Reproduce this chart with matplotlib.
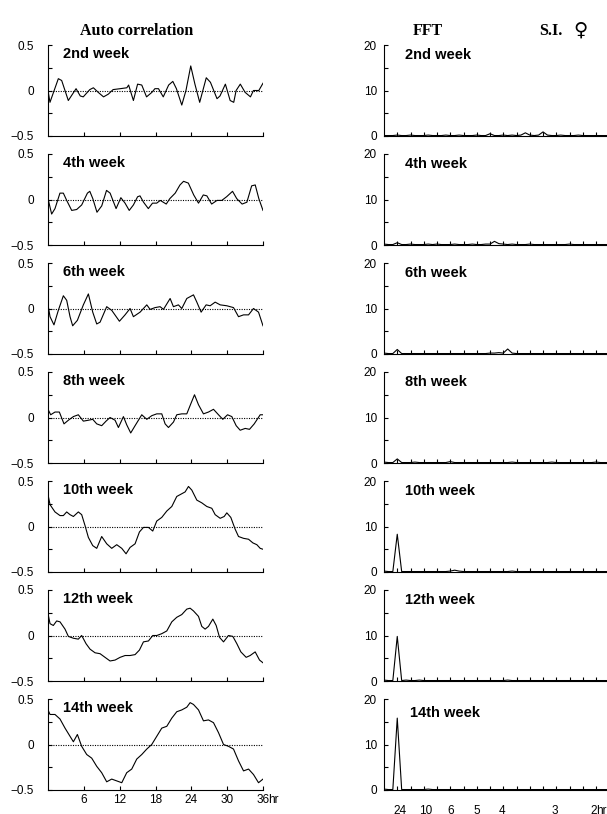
import numpy as np
import matplotlib.pyplot as plt
from matplotlib.ticker import FixedLocator

# week labels
weeks = ["2nd week", "4th week", "6th week", "8th week", "10th week", "12th week", "14th week"]

# auto correlation curves, lag in hr and coefficient
ac_t_w2 = [0, 0.33, 1.73, 2.29, 3.4, 4.7, 5.4, 5.9, 7.0, 7.6, 8.4, 9.3, 10.1, 10.9, 12.1, 13.2, 13.5, 14.3,
           15.0, 15.7, 16.5, 17.4, 17.9, 18.5, 19.3, 20.2, 20.9, 21.5, 22.4, 23.1, 23.9, 24.6, 25.4, 26.5,
           27.2, 28.3, 28.8, 29.7, 30.5, 31.1, 31.5, 32.2, 33.0, 33.9, 34.4, 35.3, 36.0]
ac_v_w2 = [0, -0.13, 0.13, 0.11, -0.11, 0.02, -0.06, -0.07, 0.01, 0.03, -0.02, -0.07, -0.04, 0.01, 0.02, 0.03,
           0.06, -0.11, 0.07, 0.06, -0.07, -0.02, 0.02, 0.02, -0.07, 0.06, 0.10, 0.02, -0.16, 0, 0.27, 0.07,
           -0.13, 0.14, 0.09, -0.09, -0.06, 0.07, -0.11, -0.13, 0, 0.07, -0.02, -0.07, 0, 0, 0.08]

ac_t_w4 = [0, 0.61, 1.17, 2.0, 2.57, 3.13, 3.97, 4.8, 5.64, 6.6, 7.0, 7.5, 8.2, 9.0, 9.8, 10.4, 11.4, 12.2,
           12.9, 13.6, 14.3, 15.0, 15.4, 16.0, 16.8, 17.5, 18.2, 18.8, 19.8, 20.4, 21.3, 22.1, 22.7, 23.5,
           24.4, 25.2, 26.0, 26.6, 27.4, 28.3, 29.1, 29.9, 30.9, 31.6, 32.5, 33.3, 34.1, 34.7, 35.3, 36.0]
ac_v_w4 = [0.01, -0.16, -0.10, 0.07, 0.07, -0.01, -0.12, -0.11, -0.06, 0.07, 0.09, 0.01, -0.14, -0.07, 0.10,
           0.07, -0.10, 0.02, -0.04, -0.12, -0.06, 0.03, 0.04, -0.03, -0.10, -0.04, -0.04, -0.01, -0.05, 0.01,
           0.07, 0.16, 0.20, 0.18, 0.05, -0.04, 0.05, 0.04, -0.05, -0.01, -0.01, 0.03, 0.09, 0.01, -0.05,
           -0.03, 0.15, 0.16, 0.01, -0.12]

ac_t_w6 = [0, 0.34, 1.0, 1.73, 2.57, 3.13, 3.69, 4.13, 4.92, 5.92, 6.76, 7.49, 8.16, 8.72, 9.83, 10.67, 11.96,
           12.9, 13.74, 14.3, 15.42, 16.54, 17.1, 17.93, 18.77, 19.33, 20.45, 21.0, 21.84, 22.4, 23.24, 24.36,
           24.92, 25.64, 26.48, 27.15, 27.99, 28.83, 29.94, 31.06, 31.9, 32.74, 33.58, 34.41, 35.25, 36.0]
ac_v_w6 = [0.04, -0.09, -0.18, -0.02, 0.14, 0.09, -0.09, -0.19, -0.13, 0.04, 0.16, -0.04, -0.17, -0.15, 0.02,
           -0.02, -0.14, -0.07, 0, -0.09, -0.04, 0.04, -0.01, 0.01, 0.02, -0.01, 0.11, 0.02, 0.04, 0, 0.11,
           0.15, 0.07, -0.04, 0.04, 0.03, 0.07, 0.04, 0.03, 0.01, -0.09, -0.07, -0.07, 0, -0.04, -0.19]

ac_t_w8 = [0, 0.45, 1.17, 1.9, 2.68, 3.41, 4.25, 5.08, 5.92, 6.76, 7.49, 8.16, 8.99, 9.72, 10.39, 11.23, 11.79,
           12.63, 13.18, 13.85, 14.58, 15.7, 16.54, 17.37, 18.21, 19.05, 19.61, 20.17, 21.01, 21.56, 22.4,
           23.24, 23.91, 24.53, 25.2, 26.03, 26.87, 27.71, 28.55, 29.27, 30.06, 30.78, 31.51, 32.18, 33.02,
           33.74, 34.53, 35.53, 36.0]
ac_v_w8 = [0.09, 0.03, 0.06, 0.06, -0.07, -0.03, 0.01, 0.03, -0.04, -0.03, -0.02, -0.07, -0.09, -0.04, 0,
           -0.03, -0.11, 0.01, -0.08, -0.17, -0.09, 0.03, -0.02, 0.02, 0.04, 0.04, -0.07, -0.11, -0.05, 0.03,
           0.04, 0.04, 0.15, 0.25, 0.14, 0.04, 0.06, 0.09, 0.03, -0.02, 0.03, 0.01, -0.09, -0.14, -0.12,
           -0.13, -0.07, 0.03, 0.03]

ac_t_w10 = [0, 0.34, 1.17, 2.01, 2.57, 3.13, 3.69, 4.25, 5.08, 5.64, 6.2, 6.76, 7.49, 8.16, 8.99, 9.83, 10.67,
            11.51, 12.35, 13.07, 13.74, 14.58, 15.31, 15.98, 16.82, 17.54, 18.21, 19.05, 19.89, 20.73, 21.56,
            22.4, 22.96, 23.52, 24.08, 24.92, 25.75, 26.59, 27.43, 27.99, 28.83, 29.5, 29.94, 30.61, 31.34,
            31.9, 32.74, 33.58, 34.3, 34.97, 35.53, 36.0]
ac_v_w10 = [0.35, 0.24, 0.16, 0.12, 0.12, 0.16, 0.13, 0.11, 0.16, 0.13, 0.01, -0.12, -0.21, -0.24, -0.11,
            -0.19, -0.24, -0.20, -0.24, -0.30, -0.23, -0.19, -0.06, -0.01, -0.01, -0.05, 0.06, 0.10, 0.17,
            0.22, 0.33, 0.36, 0.38, 0.44, 0.40, 0.29, 0.26, 0.22, 0.20, 0.13, 0.09, 0.11, 0.15, 0.10, -0.03,
            -0.11, -0.13, -0.14, -0.18, -0.20, -0.24, -0.25]

ac_t_w12 = [0, 0.34, 0.89, 1.45, 2.01, 2.85, 3.41, 4.25, 5.08, 5.64, 6.37, 7.04, 7.88, 8.72, 9.55, 10.39,
            11.23, 12.07, 12.91, 13.74, 14.58, 15.31, 15.98, 16.82, 17.54, 18.21, 19.05, 19.89, 20.73, 21.56,
            22.4, 23.24, 23.8, 24.36, 25.2, 25.75, 26.31, 26.87, 27.6, 28.16, 28.72, 29.39, 30.22, 30.95,
            31.62, 32.29, 33.18, 33.85, 34.69, 35.42, 36.0]
ac_v_w12 = [0.24, 0.13, 0.11, 0.16, 0.15, 0.07, -0.01, -0.03, -0.04, 0, -0.09, -0.15, -0.19, -0.20, -0.24,
            -0.28, -0.27, -0.24, -0.22, -0.22, -0.21, -0.16, -0.07, -0.06, 0, 0, 0.02, 0.05, 0.15, 0.20, 0.23,
            0.29, 0.30, 0.27, 0.21, 0.10, 0.07, 0.10, 0.18, 0.11, -0.02, -0.07, 0, -0.01, -0.09, -0.18, -0.24,
            -0.22, -0.18, -0.27, -0.30]

ac_t_w14 = [0, 0.34, 1.17, 2.01, 2.85, 3.69, 4.25, 4.92, 5.64, 6.48, 7.32, 8.16, 8.99, 9.83, 10.67, 11.51,
            12.35, 13.18, 14.02, 14.86, 15.7, 16.54, 17.37, 18.21, 19.05, 19.89, 20.73, 21.56, 22.4, 23.24,
            23.8, 24.36, 25.2, 26.03, 26.87, 27.71, 28.55, 29.39, 30.22, 31.06, 31.9, 32.74, 33.58, 34.41,
            35.25, 36.0]
ac_v_w14 = [0.38, 0.33, 0.33, 0.28, 0.18, 0.09, 0.03, 0.11, -0.02, -0.11, -0.15, -0.24, -0.31, -0.41, -0.38,
            -0.40, -0.42, -0.31, -0.27, -0.16, -0.11, -0.05, 0, 0.09, 0.18, 0.20, 0.29, 0.36, 0.38, 0.41, 0.46,
            0.44, 0.38, 0.26, 0.27, 0.24, 0.13, 0, -0.02, -0.05, -0.18, -0.29, -0.27, -0.33, -0.42, -0.38]

ac_t = [ac_t_w2, ac_t_w4, ac_t_w6, ac_t_w8, ac_t_w10, ac_t_w12, ac_t_w14]
ac_v = [ac_v_w2, ac_v_w4, ac_v_w6, ac_v_w8, ac_v_w10, ac_v_w12, ac_v_w14]

# FFT power, frequency bins (cycles/day, step 0.25)
fft_f = np.arange(0, 13.01, 0.25)
fft_w2 = [0.1, 0.1, 0.1, 0.2, 0.1, 0.1, 0.2, 0.1, 0.1, 0.1, 0.2, 0.1, 0.1, 0.1, 0.2, 0.1, 0.1, 0.2, 0.1,
          0.1, 0.1, 0.2, 0.1, 0.1, 0.5, 0.1, 0.1, 0.2, 0.1, 0.2, 0.1, 0.2, 0.7, 0.2, 0.1, 0.2, 0.9, 0.2, 0.1,
          0.1, 0.2, 0.1, 0.1, 0.1, 0.2, 0.1, 0.1, 0.1, 0.1, 0.1, 0.1, 0.1, 0.1]
fft_w4 = [0.2, 0.1, 0.1, 0.5, 0.1, 0.1, 0.2, 0.1, 0.1, 0.1, 0.2, 0.1, 0.2, 0.1, 0.1, 0.1, 0.2, 0.1, 0.1,
          0.1, 0.2, 0.1, 0.1, 0.2, 0.2, 0.8, 0.3, 0.2, 0.1, 0.2, 0.1, 0.1, 0.1, 0.2, 0.1, 0.1, 0.1, 0.1, 0.1,
          0.1, 0.1, 0.1, 0.2, 0.1, 0.1, 0.1, 0.1, 0.1, 0.1, 0.1, 0.1, 0.1, 0.1]
fft_w6 = [0.2, 0.1, 0.1, 1.0, 0.1, 0.1, 0.1, 0.1, 0.1, 0.1, 0.1, 0.1, 0.1, 0.1, 0.1, 0.1, 0.1, 0.1, 0.1,
          0.1, 0.1, 0.1, 0.1, 0.1, 0.2, 0.2, 0.3, 0.2, 1.1, 0.2, 0.1, 0.1, 0.1, 0.1, 0.1, 0.1, 0.1, 0.1, 0.1,
          0.1, 0.1, 0.1, 0.1, 0.1, 0.1, 0.1, 0.1, 0.1, 0.1, 0.1, 0.1, 0.1, 0.1]
fft_w8 = [0.2, 0.1, 0.1, 0.9, 0.1, 0.1, 0.1, 0.2, 0.1, 0.1, 0.1, 0.1, 0.1, 0.1, 0.1, 0.3, 0.1, 0.1, 0.1,
          0.1, 0.1, 0.1, 0.1, 0.1, 0.1, 0.1, 0.1, 0.1, 0.1, 0.2, 0.1, 0.1, 0.1, 0.1, 0.1, 0.1, 0.1, 0.1, 0.2,
          0.1, 0.1, 0.1, 0.1, 0.1, 0.1, 0.1, 0.1, 0.1, 0.2, 0.1, 0.1, 0.1, 0.1]
fft_w10 = [0.2, 0.1, 0.1, 8.3, 0.1, 0.1, 0.1, 0.1, 0.1, 0.1, 0.1, 0.1, 0.1, 0.1, 0.1, 0.2, 0.4, 0.2, 0.1,
           0.1, 0.1, 0.1, 0.1, 0.1, 0.1, 0.1, 0.1, 0.1, 0.1, 0.2, 0.1, 0.1, 0.1, 0.1, 0.1, 0.1, 0.1, 0.1, 0.1,
           0.1, 0.1, 0.1, 0.1, 0.1, 0.1, 0.1, 0.1, 0.1, 0.1, 0.1, 0.1, 0.1, 0.1]
fft_w12 = [0.2, 0.1, 0.1, 9.8, 0.1, 0.2, 0.1, 0.1, 0.2, 0.1, 0.1, 0.1, 0.1, 0.1, 0.1, 0.1, 0.1, 0.1, 0.1,
           0.1, 0.1, 0.1, 0.1, 0.1, 0.1, 0.1, 0.1, 0.1, 0.2, 0.1, 0.1, 0.1, 0.1, 0.1, 0.1, 0.1, 0.1, 0.1, 0.1,
           0.1, 0.1, 0.1, 0.1, 0.1, 0.1, 0.1, 0.1, 0.1, 0.1, 0.1, 0.1, 0.1, 0.1]
fft_w14 = [0.2, 0.1, 0.1, 15.8, 0.1, 0.1, 0.1, 0.1, 0.1, 0.1, 0.2, 0.1, 0.1, 0.1, 0.1, 0.1, 0.1, 0.1, 0.1,
           0.1, 0.1, 0.1, 0.1, 0.1, 0.1, 0.1, 0.1, 0.1, 0.1, 0.1, 0.1, 0.1, 0.1, 0.1, 0.1, 0.1, 0.1, 0.1, 0.1,
           0.1, 0.1, 0.1, 0.1, 0.1, 0.1, 0.1, 0.1, 0.1, 0.1, 0.1, 0.1, 0.1, 0.1]
fft_p = [fft_w2, fft_w4, fft_w6, fft_w8, fft_w10, fft_w12, fft_w14]

# x ticks
ac_ticks = [6, 12, 18, 24, 30, 36]
fft_tick_pos = [0.9, 2.36, 3.76, 5.26, 6.68, 9.68, 11.84]
fft_tick_lab = ["24", "10", "6", "5", "4", "3", "2"]

W, H = 607, 814
fig = plt.figure(figsize=(W / 100, H / 100), dpi=100)
plt.rcParams['font.family'] = ['Liberation Sans', 'DejaVu Sans']

serif = ['Liberation Serif', 'DejaVu Serif']
fs_tick = 8.5
fs_week = 10.5

for i in range(7):
    top = 45 + 109 * i
    h = 91
    b = 1 - (top + h) / H

    # auto correlation
    ax = fig.add_axes([48 / W, b, 215 / W, h / H])
    ax.plot(ac_t[i], ac_v[i], c="black", lw=0.8)
    ax.axhline(0, c="black", lw=0.8, ls=(0, (1, 1.2)))
    ax.set_xlim([0, 36])
    ax.set_ylim([-0.5, 0.5])
    ax.set_yticks([-0.5, 0, 0.5])
    ax.set_yticklabels(["\u22120.5", "0", "0.5"])
    ax.yaxis.set_minor_locator(FixedLocator([-0.25, 0.25]))
    ax.set_xticks(ac_ticks)
    ax.spines['top'].set_visible(False)
    ax.spines['right'].set_visible(False)
    for s in ['left', 'bottom']:
        ax.spines[s].set_linewidth(0.8)
    ax.tick_params(which='both', direction='in', length=3, width=0.8, labelsize=fs_tick)
    ax.tick_params(axis='y', pad=10)
    if i < 6:
        ax.set_xticklabels([])
    else:
        ax.set_xticklabels(["6", "12", "18", "24", "30", "36"])
        ax.tick_params(axis='x', pad=3)
        ax.annotate("hr", xy=(36.9, -0.5), xycoords='data', xytext=(0, -3),
                    textcoords='offset points', fontsize=fs_tick, ha='left', va='top',
                    annotation_clip=False)
    ax.text(0.07, 1 - 9 / h, weeks[i], transform=ax.transAxes, fontsize=fs_week,
            fontweight='bold', va='center', ha='left')

    # FFT
    ax2 = fig.add_axes([384 / W, b, 13 * 17.67 / W, h / H])
    ax2.plot(fft_f, fft_p[i], c="black", lw=0.8)
    ax2.set_xlim([0, 13])
    ax2.set_ylim([0, 20])
    ax2.set_yticks([0, 10, 20])
    ax2.yaxis.set_minor_locator(FixedLocator([5, 15]))
    ax2.set_xticks(fft_tick_pos)
    ax2.xaxis.set_minor_locator(FixedLocator(np.arange(0.75, 13, 0.75)))
    ax2.spines['top'].set_visible(False)
    ax2.spines['right'].set_visible(False)
    for s in ['left', 'bottom']:
        ax2.spines[s].set_linewidth(0.8)
    ax2.tick_params(which='both', direction='in', length=3, width=0.8, labelsize=fs_tick)
    ax2.tick_params(axis='y', pad=5)
    ax2.tick_params(axis='x', which='major', length=0)
    if i < 6:
        ax2.set_xticklabels([])
    else:
        ax2.set_xticklabels(fft_tick_lab)
        ax2.tick_params(axis='x', pad=11)
        ax2.annotate("hr", xy=(12.0, 0), xycoords='data', xytext=(0, -11),
                     textcoords='offset points', fontsize=fs_tick, ha='left', va='top',
                     annotation_clip=False)
    dy = 14 if i == 6 else 10
    dx = 26 if i == 6 else 21
    ax2.text(dx / (13 * 17.67), 1 - dy / h, weeks[i], transform=ax2.transAxes, fontsize=fs_week,
             fontweight='bold', va='center', ha='left')

fig.text(137 / W, 1 - 31 / H, "Auto correlation", family=serif, fontsize=11.5,
         fontweight='bold', ha='center', va='center')
fig.text(428 / W, 1 - 31 / H, "FFT", family=serif, fontsize=11.5,
         fontweight='bold', ha='center', va='center')
fig.text(551 / W, 1 - 31 / H, "S.I.", family=serif, fontsize=11.5,
         fontweight='bold', ha='center', va='center')
fig.text(580 / W, 1 - 30 / H, "\u2640", family=['DejaVu Sans'], fontsize=14,
         fontweight='bold', ha='center', va='center')

plt.savefig("out.png", dpi=100)
